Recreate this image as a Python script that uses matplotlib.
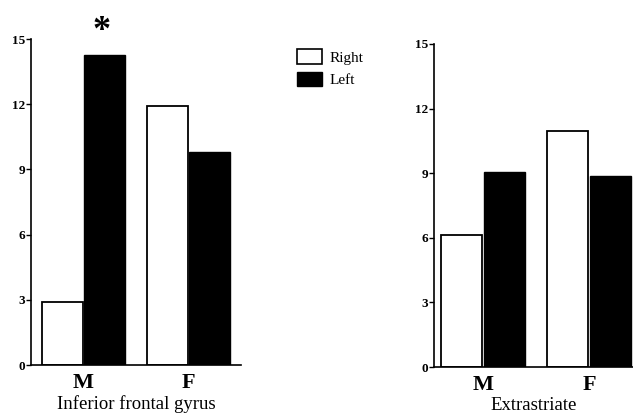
import matplotlib
matplotlib.use("Agg")
import matplotlib.pyplot as plt
from matplotlib.patches import Patch
import numpy as np

plt.rcParams['font.family'] = ['Liberation Serif', 'DejaVu Serif']

groups = ["M", "F"]
series = ["Right", "Left"]
ifg_right = [2.9, 11.9]
ifg_left = [14.25, 9.8]
ext_right = [6.15, 10.95]
ext_left = [9.05, 8.85]
yticks = [0, 3, 6, 9, 12, 15]

fig = plt.figure(figsize=(6.33, 4.18), dpi=100)

ax1 = fig.add_axes([31/633, 53/418, 210/633, 326/418])
ax2 = fig.add_axes([433.5/633, 51/418, 199.5/633, 323/418])

w = 0.39
x = np.arange(len(groups))

def draw(ax, right, left, xlabel, xlim):
    ax.bar(x - 0.2, right, w, color='white', edgecolor='black', linewidth=1.3)
    ax.bar(x + 0.2, left, w, color='black', edgecolor='black', linewidth=1.0)
    ax.set_ylim(0, 15)
    ax.set_xlim(*xlim)
    ax.set_yticks(yticks)
    ax.set_yticklabels([str(t) for t in yticks], fontsize=9.5, fontweight='bold')
    ax.set_xticks(x)
    ax.set_xticklabels(groups, fontsize=16, fontweight='bold')
    ax.tick_params(axis='x', length=0, pad=6)
    ax.tick_params(axis='y', length=3.5, width=1, pad=0.5)
    ax.spines['top'].set_visible(False)
    ax.spines['right'].set_visible(False)
    ax.spines['left'].set_linewidth(1.2)
    ax.spines['bottom'].set_linewidth(1.2)
    ax.set_xlabel(xlabel, fontsize=13.5, labelpad=1)
    ax.patch.set_alpha(0)

draw(ax1, ifg_right, ifg_left, "Inferior frontal gyrus", (-0.5, 1.5))
draw(ax2, ext_right, ext_left, "Extrastriate", (-0.467, 1.415))

ax1.text(0.17, 15.35, "*", fontsize=26, fontweight='bold', ha='center', va='center')

handles = [Patch(facecolor='white', edgecolor='black', linewidth=1.2),
           Patch(facecolor='black', edgecolor='black')]
fig.legend(handles, series, loc='upper left', bbox_to_anchor=(291/633, 1 - 43/418),
           frameon=False, fontsize=11, handlelength=1.6, handleheight=1.1,
           handletextpad=0.55, labelspacing=0.45, borderaxespad=0)

fig.savefig("out.png", dpi=100)
